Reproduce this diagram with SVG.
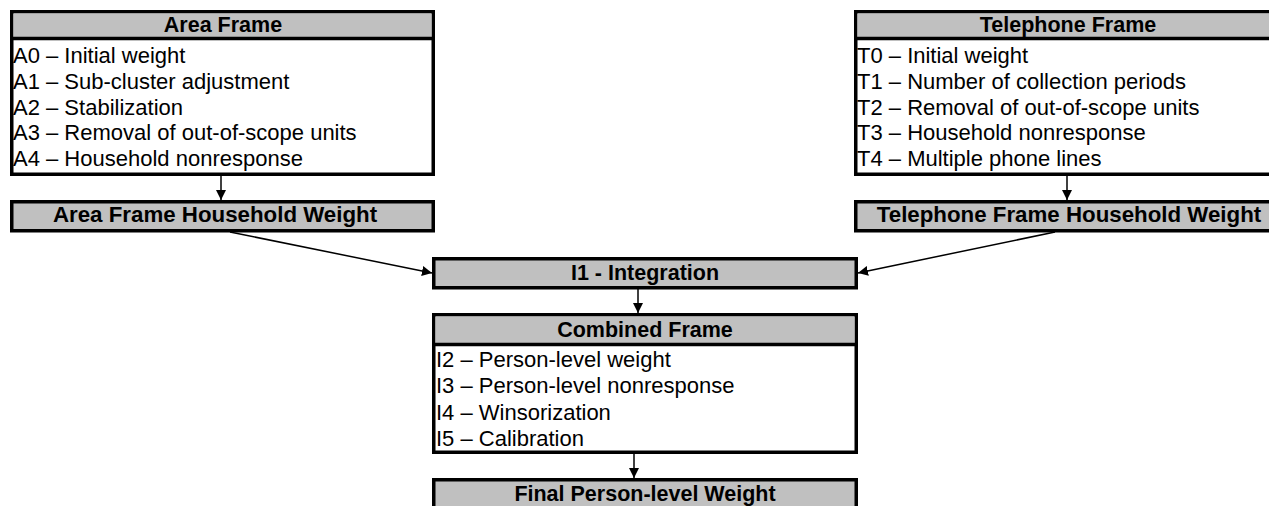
<svg xmlns="http://www.w3.org/2000/svg" width="1269" height="506" viewBox="0 0 1269 506">
<defs>
<style>
.box{fill:#fff;stroke:#000;stroke-width:3.5}
.hdr{fill:#c0c0c0}
.gbox{fill:#c0c0c0;stroke:#000;stroke-width:3.5}
.div{stroke:#000;stroke-width:3.5}
.h{font-family:"Liberation Sans",Arial,sans-serif;font-weight:bold;font-size:21.5px;fill:#000;text-anchor:middle}
.hh{font-size:22.3px}
.t{font-family:"Liberation Sans",Arial,sans-serif;font-size:22px;fill:#000}
.c{stroke:#000;stroke-width:1.5;fill:none}
</style>
<marker id="ah" viewBox="0 0 10 10" refX="10" refY="5" markerWidth="10" markerHeight="10" markerUnits="userSpaceOnUse" orient="auto">
<path d="M0,0 L10,5 L0,10 z" fill="#000"/>
</marker>
</defs>

<g id="connectors">
<line class="c" x1="221" y1="176" x2="221" y2="200" marker-end="url(#ah)"/>
<line class="c" x1="1067" y1="176" x2="1067" y2="200" marker-end="url(#ah)"/>
<line class="c" x1="230" y1="232" x2="432" y2="273" marker-end="url(#ah)"/>
<line class="c" x1="1055" y1="232" x2="858" y2="273" marker-end="url(#ah)"/>
<line class="c" x1="638" y1="289" x2="638" y2="313" marker-end="url(#ah)"/>
<line class="c" x1="634" y1="454" x2="634" y2="478" marker-end="url(#ah)"/>
</g>

<g id="area-frame">
<rect class="box" x="11.75" y="11.75" width="421.5" height="162.5"/>
<rect class="hdr" x="13.5" y="13.5" width="418" height="24"/>
<line class="div" x1="10" y1="38.5" x2="435" y2="38.5"/>
<text class="h" x="223" y="31.5">Area Frame</text>
<text class="t" x="13" y="63">A0 – Initial weight</text>
<text class="t" x="13" y="88.8">A1 – Sub-cluster adjustment</text>
<text class="t" x="13" y="114.6">A2 – Stabilization</text>
<text class="t" x="13" y="140.4">A3 – Removal of out-of-scope units</text>
<text class="t" x="13" y="166.2">A4 – Household nonresponse</text>
</g>

<g id="telephone-frame">
<rect class="box" x="855.75" y="11.75" width="424.5" height="162.5"/>
<rect class="hdr" x="857.5" y="13.5" width="421" height="24"/>
<line class="div" x1="854" y1="38.5" x2="1282" y2="38.5"/>
<text class="h" x="1068" y="31.5">Telephone Frame</text>
<text class="t" x="857" y="63">T0 – Initial weight</text>
<text class="t" x="857" y="88.8">T1 – Number of collection periods</text>
<text class="t" x="857" y="114.6">T2 – Removal of out-of-scope units</text>
<text class="t" x="857" y="140.4">T3 – Household nonresponse</text>
<text class="t" x="857" y="166.2">T4 – Multiple phone lines</text>
</g>

<g id="area-household-weight">
<rect class="gbox" x="11.75" y="201.75" width="421.5" height="29"/>
<text class="h hh" x="215" y="222">Area Frame Household Weight</text>
</g>

<g id="telephone-household-weight">
<rect class="gbox" x="855.75" y="201.75" width="424.5" height="29"/>
<text class="h hh" x="1069" y="222">Telephone Frame Household Weight</text>
</g>

<g id="integration">
<rect class="gbox" x="433.75" y="258.75" width="422.5" height="29"/>
<text class="h" x="645" y="280">I1 - Integration</text>
</g>

<g id="combined-frame">
<rect class="box" x="433.75" y="314.75" width="422.5" height="137.5"/>
<rect class="hdr" x="435.5" y="316.5" width="419" height="27"/>
<line class="div" x1="432" y1="344.5" x2="858" y2="344.5"/>
<text class="h" x="645" y="337">Combined Frame</text>
<text class="t" x="436" y="367">I2 – Person-level weight</text>
<text class="t" x="436" y="393.3">I3 – Person-level nonresponse</text>
<text class="t" x="436" y="419.6">I4 – Winsorization</text>
<text class="t" x="436" y="446">I5 – Calibration</text>
</g>

<g id="final-weight">
<rect class="gbox" x="433.75" y="479.75" width="422.5" height="40"/>
<text class="h" x="645" y="501">Final Person-level Weight</text>
</g>
</svg>
